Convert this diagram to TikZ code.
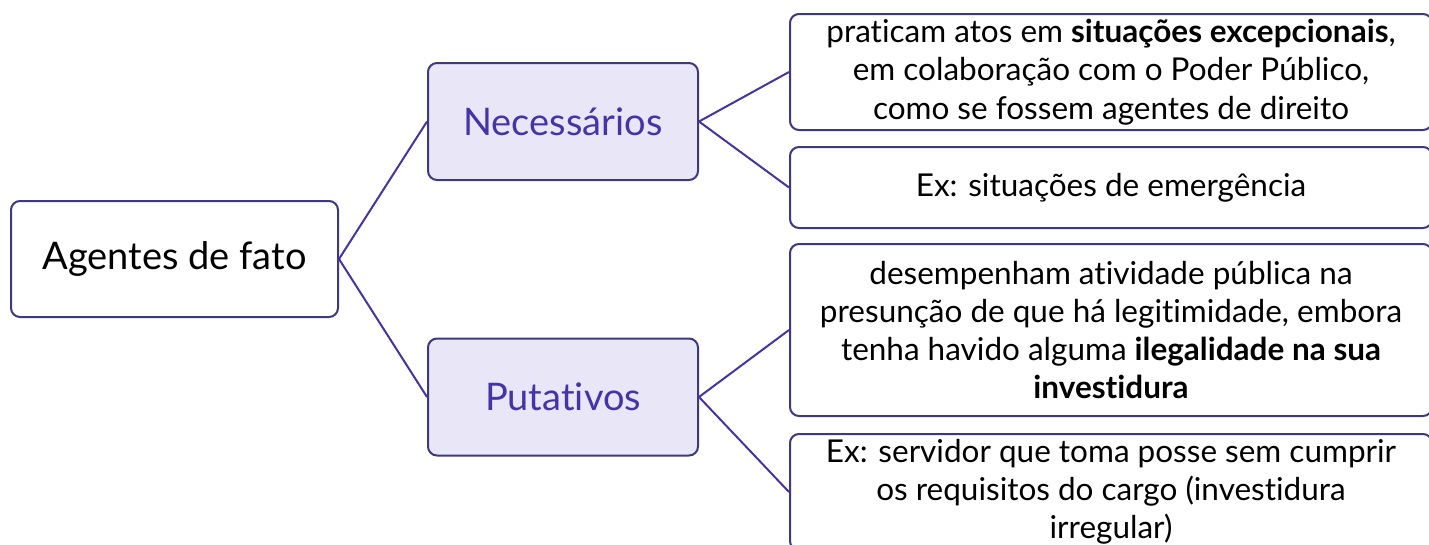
\documentclass[tikz,border=0pt]{standalone}
\usepackage{fontspec}
\setmainfont{Lato}[Ligatures=NoCommon]
\definecolor{boxline}{HTML}{3E3880}
\definecolor{conn}{HTML}{4534A2}
\definecolor{midfill}{HTML}{E9E6F7}
\definecolor{midtext}{HTML}{4434A8}
\tikzset{
  basebox/.style={draw=boxline, line width=2pt, rounded corners=9pt, inner sep=0pt, align=center},
  rootbox/.style={basebox, fill=white, minimum width=327pt, minimum height=116pt, font=\fontsize{38}{44}\selectfont},
  midbox/.style={basebox, fill=midfill, minimum width=270pt, minimum height=117pt, text=midtext, font=\fontsize{38}{44}\selectfont},
  leafbox/.style={basebox, fill=white, minimum width=642pt, font=\fontsize{31.5}{38.2}\selectfont},
  conline/.style={draw=conn, line width=2pt}
}
\begin{document}
\begin{tikzpicture}[x=1pt,y=-1pt]
\clip (0,0) rectangle (1429,544);
\fill[white] (0,0) rectangle (1429,544);
\node[rootbox] (root) at (174.5,259) {Agentes de fato};
\node[midbox] (nec) at (563,121.5) {Necessários};
\node[midbox] (put) at (563,397) {Putativos};
\node[leafbox, minimum height=116pt] (r1) at (1111,72) {praticam atos em \textbf{situações excepcionais},\\ em colaboração com o Poder Público,\\ como se fossem agentes de direito};
\node[leafbox, minimum height=81pt] (r2) at (1111,187.5) {Ex: situações de emergência};
\node[leafbox, minimum height=172pt] (r3) at (1111,330) {desempenham atividade pública na\\ presunção de que há legitimidade, embora\\ tenha havido alguma \textbf{ilegalidade na sua}\\ \textbf{investidura}};
\node[leafbox, minimum height=116pt] (r4) at (1111,492) {Ex: servidor que toma posse sem cumprir\\ os requisitos do cargo (investidura\\ irregular)};
\draw[conline] (root.east) -- (nec.west);
\draw[conline] (root.east) -- (put.west);
\draw[conline] (nec.east) -- (r1.west);
\draw[conline] (nec.east) -- (r2.west);
\draw[conline] (put.east) -- (r3.west);
\draw[conline] (put.east) -- (r4.west);
\end{tikzpicture}
\end{document}
